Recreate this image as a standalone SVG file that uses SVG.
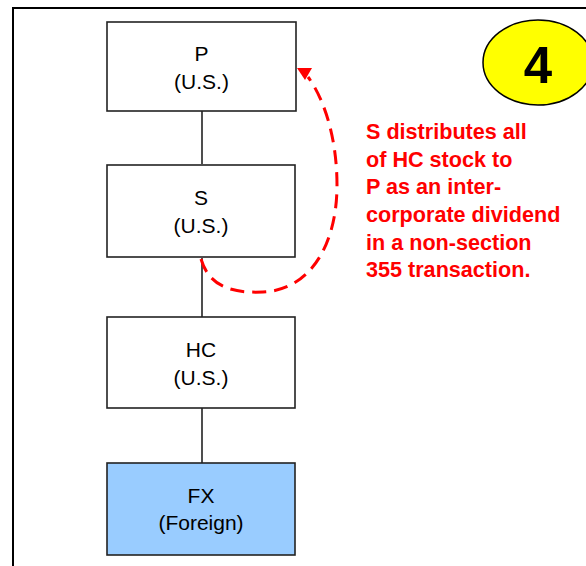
<svg xmlns="http://www.w3.org/2000/svg" width="586" height="566" viewBox="0 0 586 566">
<style>
.box{fill:#fff;stroke:#222;stroke-width:1.6}
.fx{fill:#99CCFF;stroke:#222;stroke-width:1.6}
.lbl{font-family:"Liberation Sans",Arial,sans-serif;font-size:21px;fill:#000;text-anchor:middle}
.note{font-family:"Liberation Sans",Arial,sans-serif;font-size:21.6px;font-weight:bold;fill:#FF0000}
.conn{stroke:#222;stroke-width:1.6;fill:none}
</style>
<rect x="0" y="0" width="586" height="566" fill="#fff"/>
<rect x="13" y="8" width="600" height="600" fill="none" stroke="#000" stroke-width="2"/>
<g id="connectors">
<line class="conn" x1="202" y1="111" x2="202" y2="164"/>
<line class="conn" x1="202" y1="258" x2="202" y2="317"/>
<line class="conn" x1="202" y1="408" x2="202" y2="463"/>
<path d="M 201 259 C 210 290, 238 293, 263 292 C 310 290, 337 245, 337 185 C 337 140, 325 100, 308 77" fill="none" stroke="#FF0000" stroke-width="3" stroke-dasharray="14 8"/>
<polygon points="297,68 312,68 305,80" fill="#FF0000"/>
</g>
<g id="P">
<rect class="box" x="107" y="22" width="189" height="89"/>
<text class="lbl" x="201.5" y="61">P</text>
<text class="lbl" x="201.5" y="89">(U.S.)</text>
</g>
<g id="S">
<rect class="box" x="107" y="165" width="188" height="92"/>
<text class="lbl" x="201" y="205">S</text>
<text class="lbl" x="201" y="233">(U.S.)</text>
</g>
<g id="HC">
<rect class="box" x="107" y="317" width="188" height="91"/>
<text class="lbl" x="201" y="357">HC</text>
<text class="lbl" x="201" y="385">(U.S.)</text>
</g>
<g id="FX">
<rect class="fx" x="107" y="463" width="188" height="92"/>
<text class="lbl" x="201" y="503">FX</text>
<text class="lbl" x="201" y="530">(Foreign)</text>
</g>
<g id="badge">
<ellipse cx="538" cy="62.5" rx="55" ry="42.5" fill="#FFFF00" stroke="#000" stroke-width="1.5"/>
<text x="538" y="83" font-family="'Liberation Sans',Arial,sans-serif" font-size="51" font-weight="bold" text-anchor="middle">4</text>
</g>
<g id="note">
<text class="note" x="366" y="139">S distributes all</text>
<text class="note" x="366" y="167">of HC stock to</text>
<text class="note" x="366" y="194">P as an inter-</text>
<text class="note" x="366" y="222">corporate dividend</text>
<text class="note" x="366" y="250">in a non-section</text>
<text class="note" x="366" y="277">355 transaction.</text>
</g>
</svg>
